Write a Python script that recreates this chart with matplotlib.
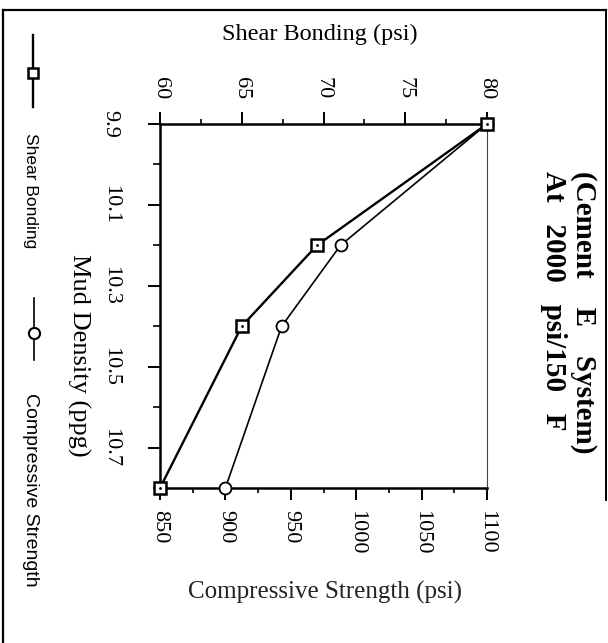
import matplotlib
matplotlib.use("Agg")
import matplotlib.pyplot as plt
from matplotlib.lines import Line2D
from matplotlib.ticker import FixedLocator

# ---- data ----
mud_density = [9.9, 10.2, 10.4, 10.8]
compressive_strength = [1100, 988, 943, 900]
shear_bonding = [80, 69.6, 65.0, 60]

density_ticks = [9.9, 10.1, 10.3, 10.5, 10.7]
density_minor = [10.0, 10.2, 10.4, 10.6, 10.8]
density_labels = ["9.9", "10.1", "10.3", "10.5", "10.7"]
comp_ticks = [850, 900, 950, 1000, 1050, 1100]
comp_minor = [875, 925, 975, 1025, 1075]
shear_ticks = [60, 65, 70, 75, 80]
shear_minor = [62.5, 67.5, 72.5, 77.5]

W, H = 608, 643
fig = plt.figure(figsize=(W / 100, H / 100), dpi=100)
fig.patch.set_facecolor("white")

serif = ["Liberation Serif", "DejaVu Serif"]
sans = ["Liberation Sans", "DejaVu Sans"]

def fx(px):
    return px / W

def fy(py):
    return 1 - py / H

x0, x1, y0, y1 = 160, 487, 124, 488
ax = fig.add_axes([fx(x0), fy(y1), fx(x1 - x0), (y1 - y0) / H])
ax2 = ax.twiny()

# compressive strength (bottom axis)
ax.plot(compressive_strength, mud_density, color="black", lw=1.2,
        marker="o", ms=8.6, mfc="white", mec="black", mew=1.3, zorder=3,
        clip_on=False)
# shear bonding (top axis)
ax2.plot(shear_bonding, mud_density, color="black", lw=1.7,
         marker="s", ms=8.2, mfc="white", mec="black", mew=1.8, zorder=4,
         clip_on=False)
ax2.plot(shear_bonding, mud_density, ls="none", marker=".", ms=2.0,
         color="black", zorder=5, clip_on=False)

ax.set_xlim(comp_ticks[0], comp_ticks[-1])
ax2.set_xlim(shear_ticks[0], shear_ticks[-1])
ax.set_ylim(density_minor[-1], density_ticks[0])

ax.xaxis.set_major_locator(FixedLocator(comp_ticks))
ax.xaxis.set_minor_locator(FixedLocator(comp_minor))
ax2.xaxis.set_major_locator(FixedLocator(shear_ticks))
ax2.xaxis.set_minor_locator(FixedLocator(shear_minor))
ax.yaxis.set_major_locator(FixedLocator(density_ticks))
ax.yaxis.set_minor_locator(FixedLocator(density_minor))

ax.set_xticklabels([str(v) for v in comp_ticks], rotation=-90,
                   family=serif, fontsize=16)
ax2.set_xticklabels([str(v) for v in shear_ticks], rotation=-90,
                    family=serif, fontsize=16)
ax.set_yticklabels(density_labels, rotation=-90, family=serif, fontsize=16,
                   va="center")

ax.tick_params(axis="x", which="major", direction="out", length=8.6,
               width=1.4, pad=7)
ax.tick_params(axis="x", which="minor", direction="out", length=3.6,
               width=1.2)
ax2.tick_params(axis="x", which="major", direction="out", length=8.6,
                width=1.4, pad=9)
ax2.tick_params(axis="x", which="minor", direction="out", length=3.6,
                width=1.2)
ax.tick_params(axis="y", which="major", direction="out", length=9,
               width=1.4, pad=20)
ax.tick_params(axis="y", which="minor", direction="out", length=5,
               width=1.2)

for s in ["left", "bottom"]:
    ax.spines[s].set_linewidth(1.8)
ax.spines["top"].set_visible(False)
ax.spines["right"].set_linewidth(0.8)
ax.spines["right"].set_linestyle((0, (2, 1)))
ax.spines["right"].set_color("#444444")
for s in ["left", "bottom", "right"]:
    ax2.spines[s].set_visible(False)
ax2.spines["top"].set_linewidth(1.8)

# axis titles
fig.text(fx(320), fy(34), "Shear Bonding (psi)", family=serif, fontsize=17.5,
         ha="center", va="center")
fig.text(fx(325), fy(592), "Compressive Strength (psi)", family=serif,
         fontsize=18, ha="center", va="center", color="#222222")
fig.text(fx(79), fy(355), "Mud Density (ppg)", family=serif, fontsize=19,
         rotation=-90, ha="center", va="center")

# title
fig.text(fx(554), fy(171), "At   2000   psi/150   F", family=serif,
         fontsize=21, fontweight="bold", rotation=-90, ha="center", va="top")
fig.text(fx(583), fy(171), "(Cement    E    System)", family=serif,
         fontsize=21, fontweight="bold", rotation=-90, ha="center", va="top")

# legend (drawn vertically on the left)
fig.add_artist(Line2D([fx(33), fx(33)], [fy(35), fy(107)],
                      transform=fig.transFigure, color="black", lw=1.7))
fig.add_artist(Line2D([fx(33)], [fy(73)], transform=fig.transFigure,
                      marker="s", ms=7.5, mfc="white", mec="black", mew=1.8,
                      ls="none"))
fig.text(fx(30), fy(133), "Shear Bonding", family=sans, fontsize=12.5,
         rotation=-90, ha="center", va="top")
fig.add_artist(Line2D([fx(34), fx(34)], [fy(298), fy(360)],
                      transform=fig.transFigure, color="black", lw=1.2))
fig.add_artist(Line2D([fx(34)], [fy(333)], transform=fig.transFigure,
                      marker="o", ms=8, mfc="white", mec="black", mew=1.5,
                      ls="none"))
fig.text(fx(30), fy(393), "Compressive Strength", family=sans,
         fontsize=14, rotation=-90, ha="center", va="top")

# outer frame
fig.add_artist(Line2D([fx(3), fx(606)], [fy(10), fy(10)],
                      transform=fig.transFigure, color="black", lw=1.6))
fig.add_artist(Line2D([fx(3), fx(3)], [fy(10), fy(643)],
                      transform=fig.transFigure, color="black", lw=1.6))
fig.add_artist(Line2D([fx(606), fx(606)], [fy(10), fy(500)],
                      transform=fig.transFigure, color="black", lw=1.4))

fig.savefig("out.png", dpi=100, facecolor="white")
